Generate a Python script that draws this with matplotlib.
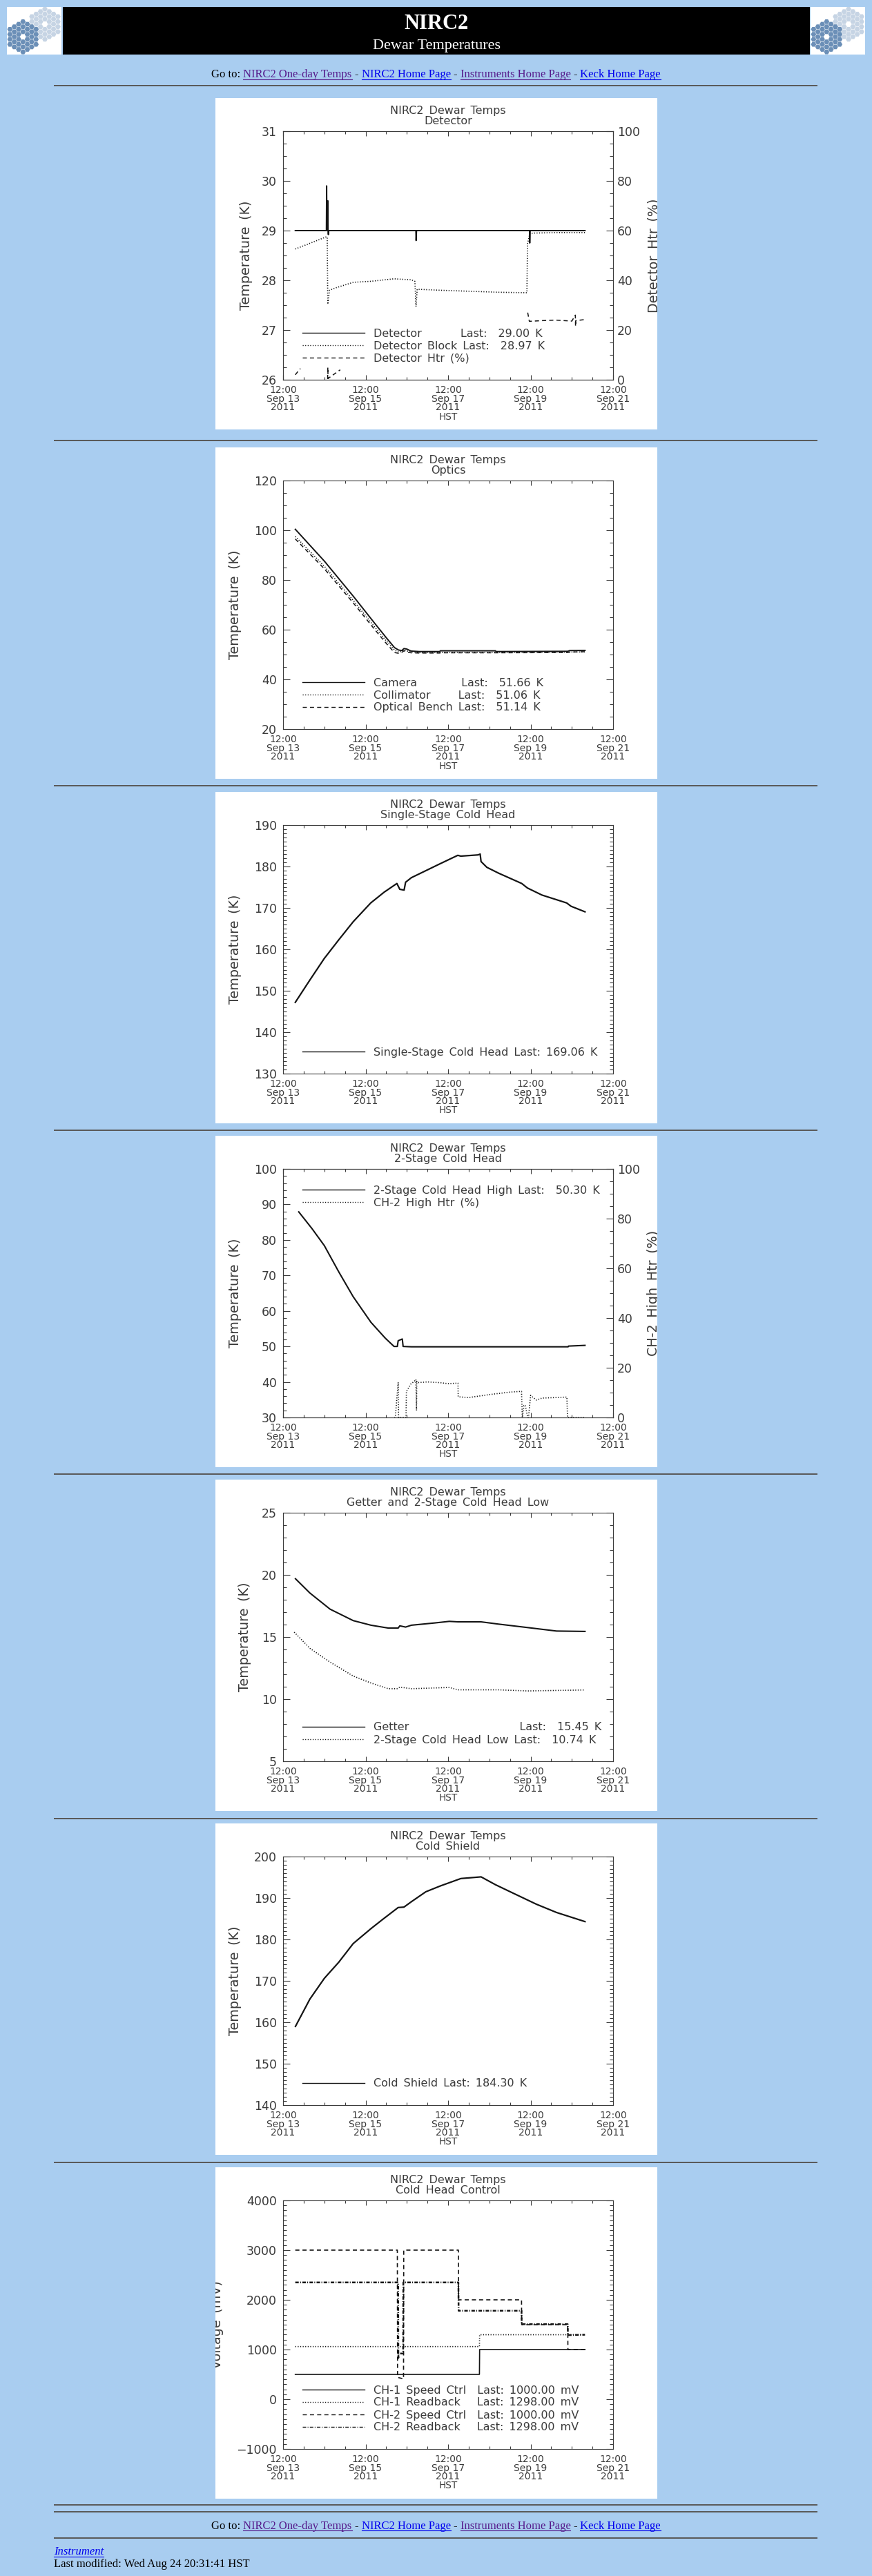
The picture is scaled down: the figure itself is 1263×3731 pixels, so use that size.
import numpy as np
import matplotlib
matplotlib.use("Agg")
import matplotlib.pyplot as plt
from matplotlib.patches import Rectangle, RegularPolygon
from matplotlib.ticker import FixedLocator, MultipleLocator

plt.rcParams['font.family'] = ['DejaVu Sans']
plt.rcParams['lines.scale_dashes'] = False

W, H = 1263, 3731
PAGE_BG = '#a9cdf0'
INK = '#3b3b3b'
PEN = '#141414'
VISITED = '#551a8b'
LINK = '#0000ee'
EN = '\u2002'
nan = np.nan

# time axis: days after 2011-09-13 12:00 HST
day_ticks = [0, 2, 4, 6, 8]
day_labels = ['12:00\nSep 13\n2011', '12:00\nSep 15\n2011', '12:00\nSep 17\n2011',
              '12:00\nSep 19\n2011', '12:00\nSep 21\n2011']

# Detector
det_t = [0.296, 1.050, 1.056, 1.062, 1.078, 1.084, 1.090, 1.098, 1.106, 3.220, 3.225, 3.235, 5.975, 5.980, 5.990, 7.319]
det_k = [29.00, 29.00, 29.90, 29.00, 29.00, 29.60, 29.00, 28.92, 29.00, 29.00, 28.80, 29.00, 29.00, 28.75, 29.00, 29.00]
blk_t = [0.296, 0.577, 1.034, 1.070, 1.084, 1.126, 1.281, 1.703, 2.125, 2.688, 3.111, 3.195, 3.223, 3.251,
         3.814, 4.518, 5.222, 5.911, 5.925, 5.982, 6.066, 6.629, 7.319]
blk_k = [28.63, 28.72, 28.87, 28.87, 27.52, 27.80, 27.85, 27.96, 27.98, 28.03, 28.01, 27.98, 27.47, 27.82,
         27.80, 27.78, 27.76, 27.75, 28.73, 28.94, 28.95, 28.96, 28.96]
dhtr_t = [0.296, 0.42, 0.422, 1.08, 1.085, 1.09, 1.386, 1.39, 5.93, 5.97, 6.3, 6.6, 7.0, 7.085, 7.09, 7.095, 7.319]
dhtr_pct = [2.0, 4.5, nan, 0.3, 5.0, 0.5, 4.0, nan, 27.0, 23.5, 23.8, 24.0, 23.6, 26.0, 21.5, 23.8, 24.2]

# Optics
opt_t = [0.296, 1.0, 1.7, 2.2, 2.5, 2.7, 2.8, 2.88, 2.93, 3.0, 3.1, 3.3, 3.8, 3.81, 5.15, 5.16, 6.9, 6.95, 7.319]
cam_k = [100.4, 87.6, 73.5, 63.0, 56.8, 52.8, 51.8, 51.6, 52.4, 52.2, 51.4, 51.2, 51.2, 51.5, 51.5, 51.2, 51.3, 51.6, 51.66]
col_k = [97.5, 85.5, 71.8, 61.5, 55.5, 51.8, 51.0, 51.3, 51.8, 51.4, 51.2, 50.8, 50.9, 50.9, 50.9, 50.9, 51.0, 51.0, 51.06]
ben_k = [96.5, 84.5, 70.8, 60.5, 54.5, 50.8, 50.5, 50.9, 51.5, 51.0, 50.7, 50.6, 50.6, 50.7, 50.7, 50.7, 50.8, 51.0, 51.14]

# Single-stage cold head
ss_t = [0.296, 0.65, 0.999, 1.35, 1.703, 2.125, 2.45, 2.759, 2.829, 2.934, 2.97, 3.11, 3.814, 4.236, 4.307,
        4.729, 4.778, 4.799, 4.94, 5.222, 5.785, 5.925, 6.277, 6.875, 6.981, 7.319]
ss_k = [147.2, 152.6, 157.8, 162.3, 166.7, 171.2, 173.8, 175.9, 174.5, 174.3, 176.2, 177.3, 180.7, 182.7, 182.5,
        182.8, 183.0, 181.2, 179.8, 178.4, 175.9, 174.8, 173.1, 171.2, 170.4, 169.06]

# 2-stage cold head high
ch_t = [0.38, 0.7, 1.0, 1.35, 1.70, 2.13, 2.48, 2.69, 2.77, 2.79, 2.89, 2.91, 3.11, 4.24, 5.9, 6.91, 6.92, 7.319]
ch_k = [87.9, 83.2, 78.4, 71.0, 64.0, 56.8, 52.3, 50.0, 50.0, 51.6, 52.1, 50.0, 49.9, 49.9, 49.9, 49.9, 50.1, 50.3]
chh_t = [2.70, 2.72, 2.79, 2.80, 2.83, 2.98, 2.99, 3.10, 3.18, 3.22, 3.235, 3.24, 3.25, 3.5, 3.8, 4.0, 4.24,
         4.245, 4.25, 4.5, 5.0, 5.5, 5.78, 5.80, 5.84, 5.87, 5.93, 5.95, 6.00, 6.01, 6.14, 6.28, 6.6, 6.88, 6.895, 7.319]
chh_pct = [0, 0, 14, 0, 0, 0, 10.5, 13.5, 14.5, 15.3, 2.8, 14.5, 14.0, 14.3, 14.0, 13.6, 13.8,
           8.4, 8.3, 8.0, 9.2, 10.2, 10.5, 0, 4.8, 5.0, 0, 0, 8.9, 8.7, 7.0, 7.8, 8.0, 8.2, 0, 0]

# Getter and 2-stage cold head low
get_t = [0.30, 0.65, 1.14, 1.70, 2.13, 2.55, 2.79, 2.83, 2.97, 3.11, 3.67, 4.03, 4.24, 4.80, 5.01, 5.22, 5.93, 6.63, 7.319]
get_k = [19.69, 18.54, 17.24, 16.32, 15.95, 15.72, 15.72, 15.90, 15.80, 15.95, 16.13, 16.26, 16.22, 16.22, 16.13,
         16.04, 15.76, 15.48, 15.45]
low_t = [0.27, 0.65, 1.14, 1.70, 2.13, 2.55, 2.76, 2.83, 3.11, 4.03, 4.24, 5.22, 5.93, 7.319]
low_k = [15.39, 14.09, 12.98, 11.86, 11.30, 10.84, 10.84, 10.97, 10.84, 10.94, 10.75, 10.75, 10.66, 10.74]

# Cold shield
cs_t = [0.30, 0.65, 1.0, 1.35, 1.70, 2.13, 2.41, 2.79, 2.93, 3.11, 3.46, 3.81, 4.31, 4.80, 5.15, 5.57, 6.14, 6.63, 7.319]
cs_k = [159.0, 165.6, 170.6, 174.5, 179.0, 182.6, 184.8, 187.7, 187.8, 189.1, 191.5, 192.9, 194.7, 195.1, 193.2,
        191.2, 188.5, 186.5, 184.3]

# Cold head control (mV)
c1s_t = [0.296, 4.76, 4.765, 7.319]
c1s_mv = [500, 500, 1000, 1000]
c1r_t = [0.296, 4.76, 4.765, 7.319]
c1r_mv = [1060, 1060, 1298, 1298]
c2s_t = [0.296, 2.77, 2.775, 2.92, 2.925, 4.25, 4.255, 5.78, 5.785, 6.90, 6.905, 7.319]
c2s_mv = [3000, 3000, 440, 410, 3000, 3000, 2000, 2000, 1500, 1500, 1000, 1000]
c2r_t = [0.296, 2.79, 2.795, 2.80, 2.91, 2.915, 4.25, 4.255, 5.78, 5.785, 6.90, 6.905, 7.319]
c2r_mv = [2350, 2350, 830, 920, 920, 2350, 2350, 1780, 1780, 1510, 1510, 1290, 1298]

# legend texts
leg_det = ['Detector       Last:  29.00 K', 'Detector Block Last:  28.97 K', 'Detector Htr (%)']
leg_opt = ['Camera        Last:  51.66 K', 'Collimator     Last:  51.06 K', 'Optical Bench Last:  51.14 K']
leg_ss = ['Single-Stage Cold Head Last: 169.06 K']
leg_ch = ['2-Stage Cold Head High Last:  50.30 K', 'CH-2 High Htr (%)']
leg_get = ['Getter                    Last:  15.45 K', '2-Stage Cold Head Low Last:  10.74 K']
leg_cs = ['Cold Shield Last: 184.30 K']
leg_ctl = ['CH-1 Speed Ctrl  Last: 1000.00 mV', 'CH-1 Readback   Last: 1298.00 mV',
           'CH-2 Speed Ctrl  Last: 1000.00 mV', 'CH-2 Readback   Last: 1298.00 mV']

nav_items = [('Go to:', 'black', False), ('NIRC2 One-day Temps', VISITED, True), ('-', 'black', False),
             ('NIRC2 Home Page', LINK, True), ('-', 'black', False),
             ('Instruments Home Page', VISITED, True), ('-', 'black', False), ('Keck Home Page', LINK, True)]

SOLID = dict(ls='-')
DOTTED = dict(ls=(0, (0.9, 1.7)))
DASHED = dict(ls=(0, (4.3, 3.2)))
DASHDOT = dict(ls=(0, (3.6, 1.5, 0.8, 1.5)))

fig = plt.figure(figsize=(W / 100, H / 100), dpi=100)
fig.patch.set_facecolor(PAGE_BG)


def px_box(x, y, w, h):
    return [x / W, 1 - (y + h) / H, w / W, h / H]


page = fig.add_axes([0, 0, 1, 1])
page.set_xlim(0, W)
page.set_ylim(H, 0)
page.axis('off')

# header bar with the two segment logos
page.add_patch(Rectangle((91, 10), 1082, 69, color='black', lw=0))
page.text(632, 41.7, 'NIRC2', family='Liberation Serif', weight='bold', fontsize=22,
          color='white', ha='center', va='baseline')
page.text(632, 70.5, 'Dewar Temperatures', family='Liberation Serif', fontsize=16,
          color='white', ha='center', va='baseline')


def keck_logo(x0):
    box = Rectangle((x0, 10), 79, 69, color='white', lw=0)
    page.add_patch(box)
    for cx, cy, col in [(x0 + 55, 35, '#c6d4e4'), (x0 + 23.3, 53.3, '#6b8fb7')]:
        for q in range(-3, 4):
            for r in range(-3, 4):
                if abs(q + r) > 3 or (q == 0 and r == 0):
                    continue
                hx = RegularPolygon((cx + 6.3 * q, cy + 7.3 * (r + q / 2)), 6, radius=3.9,
                                    orientation=np.pi / 6, color=col, lw=0)
                page.add_patch(hx)
                hx.set_clip_path(box)


keck_logo(10)
keck_logo(1174)

for yh in [124, 638, 1137.5, 1636.5, 2134.5, 2633.5, 3131.5, 3628.3, 3638.3, 3675.7]:
    page.add_patch(Rectangle((78, yh - 1), 1106, 2, color='#5a5a5a', lw=0))

renderer = fig.canvas.get_renderer()


def text_width(t):
    return t.get_window_extent(renderer).width


def nav_row(yb):
    items = []
    for s, col, under in nav_items:
        t = page.text(0, yb, s, family='Liberation Serif', fontsize=12, color=col, va='baseline')
        items.append((t, col, under))
    probe1 = page.text(0, 0, 'x x', family='Liberation Serif', fontsize=12)
    probe2 = page.text(0, 0, 'xx', family='Liberation Serif', fontsize=12)
    gap = text_width(probe1) - text_width(probe2)
    probe1.remove()
    probe2.remove()
    widths = [text_width(t) for t, _, _ in items]
    x = 631.5 - (sum(widths) + gap * (len(widths) - 1)) / 2
    for (t, col, under), w in zip(items, widths):
        t.set_x(x)
        if under:
            page.plot([x, x + w], [yb + 2, yb + 2], color=col, lw=0.8)
        x += w + gap


nav_row(112.5)
nav_row(3663.3)

t_inst = page.text(78, 3700.5, 'Instrument', family='Liberation Serif', style='italic', fontsize=12,
                   color=LINK, va='baseline')
page.plot([78, 78 + text_width(t_inst)], [3703, 3703], color=LINK, lw=0.8)
page.text(78, 3718.5, 'Last modified: Wed Aug 24 20:31:41 HST', family='Liberation Serif',
          fontsize=12, color='black', va='baseline')


def dewar_panel(top, subtitle, ylim, ymaj, ymin, ylabel, ylabel_x, twin_label=None):
    pan = fig.add_axes(px_box(312, top, 640, 480))
    pan.set_xlim(0, 640)
    pan.set_ylim(480, 0)
    pan.set_facecolor('white')
    pan.set_xticks([])
    pan.set_yticks([])
    for s in pan.spines.values():
        s.set_visible(False)
    pan.text(337, 23.3, 'NIRC2 Dewar Temps'.replace(' ', EN), ha='center', va='baseline',
             fontsize=11.5, color=INK)
    pan.text(337, 38.3, subtitle.replace(' ', EN), ha='center', va='baseline', fontsize=11.5, color=INK)
    pan.text(337, 465.5, 'HST', ha='center', va='baseline', fontsize=9.8, color=INK)
    pan.text(ylabel_x, 228, ylabel.replace(' ', EN), rotation=90, ha='center', va='center',
             fontsize=13.8, color=INK, clip_on=True)

    ax = fig.add_axes(px_box(410, top + 48, 478, 360))
    ax.set_facecolor('none')
    ax.set_xlim(0, 8)
    ax.set_ylim(*ylim)
    ax.xaxis.set_major_locator(FixedLocator(day_ticks))
    ax.set_xticklabels(day_labels)
    ax.xaxis.set_minor_locator(MultipleLocator(0.5))
    ax.yaxis.set_major_locator(MultipleLocator(ymaj))
    ax.yaxis.set_minor_locator(MultipleLocator(ymin))
    for s in ax.spines.values():
        s.set_color(INK)
        s.set_linewidth(0.8)
    ax.tick_params(which='both', direction='in', top=True, right=twin_label is None,
                   color=INK, labelcolor=INK, width=0.8)
    ax.tick_params(axis='y', which='major', length=6.9, pad=6.5, labelsize=12.5)
    ax.tick_params(axis='y', which='minor', length=3.4)
    ax.tick_params(axis='x', which='major', length=5.2, pad=6.0, labelsize=10)
    ax.tick_params(axis='x', which='minor', length=2.6)
    for lab in ax.get_xticklabels():
        lab.set_linespacing(0.84)

    if twin_label is not None:
        ax2 = ax.twinx()
        ax2.set_ylim(0, 100)
        ax2.yaxis.set_major_locator(MultipleLocator(20))
        ax2.yaxis.set_minor_locator(MultipleLocator(5))
        for s in ax2.spines.values():
            s.set_color(INK)
            s.set_linewidth(0.8)
        ax2.tick_params(which='both', direction='in', color=INK, labelcolor=INK, width=0.8)
        ax2.tick_params(which='major', length=6.9, pad=4.3, labelsize=12.5)
        ax2.tick_params(which='minor', length=3.4)
        pan.text(635, 228, twin_label.replace(' ', EN), rotation=90, ha='center', va='center',
                 fontsize=13.8, color=INK, clip_on=True)
        return pan, ax, ax2
    return pan, ax


def legend(pan, styles, labels, at_top=False):
    first = 78 if at_top else 376 - 18 * (len(labels) - 1)
    for i, (st, lab) in enumerate(zip(styles, labels)):
        y = first + 18 * i
        pan.plot([126, 216], [y, y], color=PEN, lw=1.0, **st)
        pan.text(229, y + 5.5, lab.replace(' ', EN), fontsize=11.5, color=INK, va='baseline')


# 1. Detector
pan, ax, ax2 = dewar_panel(142, 'Detector', (26, 31), 1, 0.25, 'Temperature (K)', 44,
                           twin_label='Detector Htr (%)')
ax.plot(blk_t, blk_k, color=PEN, lw=1.2, **DOTTED)
ax.plot(det_t, det_k, color=PEN, lw=1.4, **SOLID)
ax2.plot(dhtr_t, dhtr_pct, color=PEN, lw=1.1, **DASHED)
legend(pan, [SOLID, DOTTED, DASHED], leg_det)

# 2. Optics
pan, ax = dewar_panel(648, 'Optics', (20, 120), 20, 5, 'Temperature (K)', 29)
ax.plot(opt_t, ben_k, color=PEN, lw=1.1, **DASHED)
ax.plot(opt_t, col_k, color=PEN, lw=1.2, **DOTTED)
ax.plot(opt_t, cam_k, color=PEN, lw=1.4, **SOLID)
legend(pan, [SOLID, DOTTED, DASHED], leg_opt)

# 3. Single-stage cold head
pan, ax = dewar_panel(1147, 'Single-Stage Cold Head', (130, 190), 10, 1, 'Temperature (K)', 29)
ax.plot(ss_t, ss_k, color=PEN, lw=1.6, **SOLID)
legend(pan, [SOLID], leg_ss)

# 4. 2-stage cold head
pan, ax, ax2 = dewar_panel(1645, '2-Stage Cold Head', (30, 100), 10, 2, 'Temperature (K)', 29,
                           twin_label='CH-2 High Htr (%)')
ax.plot(ch_t, ch_k, color=PEN, lw=1.5, **SOLID)
ax2.plot(chh_t, chh_pct, color=PEN, lw=1.2, **DOTTED)
legend(pan, [SOLID, DOTTED], leg_ch, at_top=True)

# 5. Getter and 2-stage cold head low
pan, ax = dewar_panel(2143, 'Getter and 2-Stage Cold Head Low', (5, 25), 5, 1, 'Temperature (K)', 42)
ax.plot(low_t, low_k, color=PEN, lw=1.2, **DOTTED)
ax.plot(get_t, get_k, color=PEN, lw=1.5, **SOLID)
legend(pan, [SOLID, DOTTED], leg_get)

# 6. Cold shield
pan, ax = dewar_panel(2641, 'Cold Shield', (140, 200), 10, 1, 'Temperature (K)', 29)
ax.plot(cs_t, cs_k, color=PEN, lw=1.6, **SOLID)
legend(pan, [SOLID], leg_cs)

# 7. Cold head control
pan, ax = dewar_panel(3139, 'Cold Head Control', (-1000, 4000), 1000, 100, 'Voltage (mV)', 2)
ax.plot(c1r_t, c1r_mv, color=PEN, lw=1.2, **DOTTED)
ax.plot(c1s_t, c1s_mv, color=PEN, lw=1.2, **SOLID)
ax.plot(c2s_t, c2s_mv, color=PEN, lw=1.2, **DASHED)
ax.plot(c2r_t, c2r_mv, color=PEN, lw=1.8, **DASHDOT)
legend(pan, [SOLID, DOTTED, DASHED, DASHDOT], leg_ctl)

fig.savefig('out.png', dpi=100, facecolor=PAGE_BG)
